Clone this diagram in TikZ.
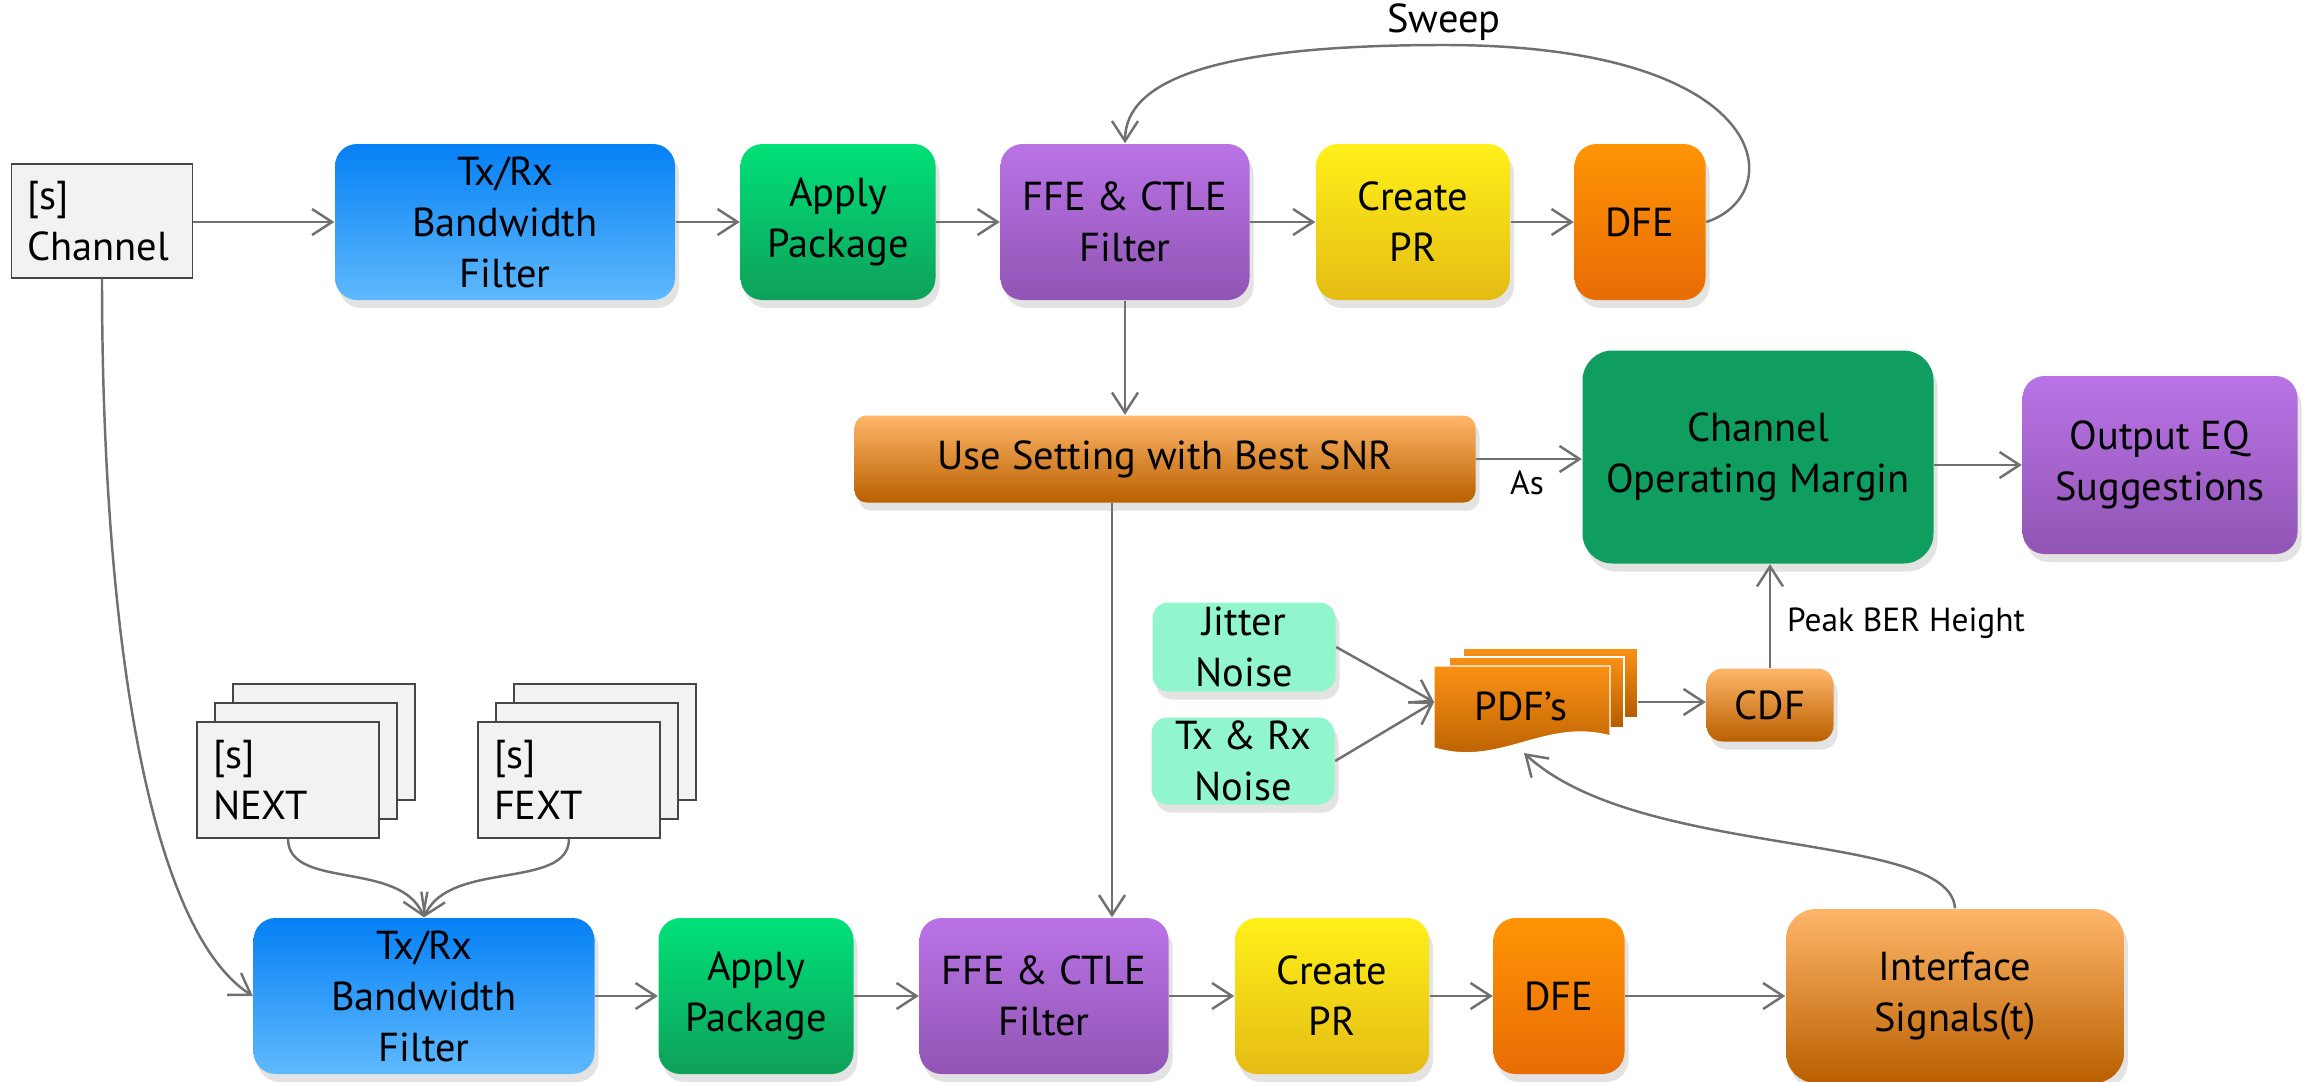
\documentclass[tikz,border=0pt]{standalone}
\usepackage{fontspec}
\setmainfont{PT Sans}
\usetikzlibrary{arrows.meta,shadows,calc}

\definecolor{blueTop}{RGB}{5,128,245}
\definecolor{blueBot}{RGB}{95,185,252}
\definecolor{greenTop}{RGB}{0,225,120}
\definecolor{greenBot}{RGB}{15,160,90}
\definecolor{purpTop}{RGB}{185,115,230}
\definecolor{purpBot}{RGB}{145,85,180}
\definecolor{yelTop}{RGB}{255,240,25}
\definecolor{yelBot}{RGB}{228,188,20}
\definecolor{orTop}{RGB}{255,148,5}
\definecolor{orBot}{RGB}{232,108,5}
\definecolor{ltorTop}{RGB}{255,182,105}
\definecolor{ltorMid}{RGB}{255,140,15}
\definecolor{ltorBot}{RGB}{185,95,0}
\definecolor{comGreen}{RGB}{15,157,96}
\definecolor{mint}{RGB}{145,245,205}
\definecolor{sbox}{RGB}{242,242,242}
\definecolor{sline}{RGB}{70,70,70}
\definecolor{wire}{RGB}{112,112,112}
\definecolor{pdfTop}{RGB}{250,145,20}
\definecolor{pdfBot}{RGB}{180,92,0}

\begin{document}
\begin{tikzpicture}[x=0.1mm, y=-0.1mm, >={Straight Barb[length=2mm,width=2.6mm]},
    font=\fontsize{11.5}{14.5}\selectfont]
    \tikzstyle{box} = [rounded corners=2.2mm, align=center, inner sep=0pt,
        drop shadow={shadow xshift=0.4mm, shadow yshift=-0.8mm, opacity=0.22}]
    \tikzstyle{sparam} = [draw=sline, fill=sbox, align=left, text width=15mm,
        inner xsep=1.6mm, minimum height=11.6mm]
    \tikzstyle{txrx} = [box, top color=blueTop, bottom color=blueBot, minimum width=34mm, minimum height=15.6mm]
    \tikzstyle{pkg} = [box, top color=greenTop, bottom color=greenBot, minimum width=19.5mm, minimum height=15.6mm]
    \tikzstyle{eq} = [box, top color=purpTop, bottom color=purpBot, minimum width=24.9mm, minimum height=15.6mm]
    \tikzstyle{pulse} = [box, top color=yelTop, bottom color=yelBot, minimum width=19.4mm, minimum height=15.6mm]
    \tikzstyle{dfebox} = [box, top color=orTop, bottom color=orBot, minimum width=13.1mm, minimum height=15.6mm]
    \tikzstyle{ltor} = [box, top color=ltorTop, middle color=ltorMid, bottom color=ltorBot]
    \tikzstyle{noise} = [box, fill=mint, rounded corners=1.6mm, minimum width=18.3mm, minimum height=8.9mm, drop shadow={opacity=0}]
    \tikzstyle{wire} = [draw=wire, line width=0.7pt, ->]
    \tikzstyle{layer} = [top color=pdfTop, bottom color=pdfBot, draw=white, line width=0.4pt]

    \useasboundingbox (0,0) rectangle (2310,1081);

    % top chain
    \node[sparam, text width=14.9mm, minimum height=11.4mm] (channel) at (102,221) {[s]\\Channel};
    \node[txrx] (txrx1) at (505,222) {Tx/Rx\\Bandwidth\\Filter};
    \node[pkg] (apply1) at (838,222) {Apply\\Package};
    \node[eq] (ffe1) at (1125,222) {FFE \& CTLE\\Filter};
    \node[pulse] (pr1) at (1413,222) {Create\\PR};
    \node[dfebox] (dfe1) at (1640,222) {DFE};
    \node (sweep) at (1444,22) {Sweep};

    % result
    \node[ltor, rounded corners=1.2mm, minimum width=62.1mm, minimum height=8.7mm] (usebest) at (1165,459) {Use Setting with Best SNR};
    \node[box, fill=comGreen, rounded corners=3mm, minimum width=35.1mm, minimum height=21.3mm] (com) at (1758,457) {Channel\\Operating Margin};
    \node[box, top color=purpTop, bottom color=purpBot, minimum width=27.5mm, minimum height=17.8mm] (output) at (2160,465) {Output EQ\\Suggestions};
    \node[font=\fontsize{9.5}{11}\selectfont] (as) at (1527,483) {As};

    % noise and statistics
    \node[noise] (jitter) at (1244,647) {Jitter\\Noise};
    \node[noise, minimum height=8.7mm] (txrxn) at (1243,761) {Tx \& Rx\\Noise};
    \path[layer] (1463,648) rectangle (1638,718);
    \path[layer] (1449,657) rectangle (1624,728);
    \path[layer] (1434,666) -- (1610,666) -- (1610,736)
        .. controls (1545,718) and (1500,768) .. (1434,748) -- cycle;
    \node (pdf) at (1521,706) {PDF’s};
    \coordinate (pdfin) at (1434,702);
    \coordinate (pdfout) at (1638,702);
    \coordinate (pdfbot) at (1524,753);
    \node[ltor, rounded corners=1.6mm, minimum width=12.7mm, minimum height=7.3mm] (cdf) at (1770,705) {CDF};
    \node[font=\fontsize{9.5}{11}\selectfont] (peak) at (1906,623) {Peak BER Height};

    % crosstalk stacks
    \node[sparam] (next3) at (324,742) {};
    \node[sparam] (next2) at (306,761) {};
    \node[sparam] (next) at (288,780) {[s]\\NEXT};
    \node[sparam] (fext3) at (605,742) {};
    \node[sparam] (fext2) at (587,761) {};
    \node[sparam] (fext) at (569,780) {[s]\\FEXT};

    % bottom chain
    \node[txrx, minimum width=34.1mm] (txrx2) at (424,996) {Tx/Rx\\Bandwidth\\Filter};
    \node[pkg] (apply2) at (756,996) {Apply\\Package};
    \node[eq] (ffe2) at (1044,996) {FFE \& CTLE\\Filter};
    \node[pulse] (pr2) at (1332,996) {Create\\PR};
    \node[dfebox] (dfe2) at (1559,996) {DFE};
    \node[ltor, rounded corners=3mm, minimum width=33.8mm, minimum height=17.4mm] (iface) at (1955,996) {Interface\\Signals(t)};
    \coordinate (drop) at (1112,0);

    % connections
    \draw[wire] (channel.east |- txrx1.west) -- (txrx1.west);
    \draw[wire] (txrx1) -- (apply1);
    \draw[wire] (apply1) -- (ffe1);
    \draw[wire] (ffe1) -- (pr1);
    \draw[wire] (pr1) -- (dfe1);
    \draw[wire] (dfe1.east) .. controls (1790,195) and (1775,45) .. (1444,45)
        .. controls (1215,45) and (1125,80) .. (ffe1.north);
    \draw[wire] (ffe1.south) -- (ffe1.south |- usebest.north);
    \draw[wire] (usebest.east) -- (usebest.east -| com.west);
    \draw[wire] (com.east |- output.west) -- (output.west);
    \draw[wire] (jitter.east) -- (pdfin);
    \draw[wire] (txrxn.east) -- (pdfin);
    \draw[wire] (pdfout) -- (cdf.west |- pdfout);
    \draw[wire] (cdf.north) -- (cdf.north |- com.south);
    \draw[wire] (iface.north) .. controls (1950,830) and (1640,860) .. (pdfbot);
    \draw[wire] (channel.south) .. controls (102,640) and (150,930) .. (txrx2.west);
    \draw[wire] (next.south) .. controls (288,890) and (400,860) .. (txrx2.north);
    \draw[wire] (fext.south) .. controls (569,890) and (450,860) .. (txrx2.north);
    \draw[wire] (txrx2) -- (apply2);
    \draw[wire] (apply2) -- (ffe2);
    \draw[wire] (ffe2) -- (pr2);
    \draw[wire] (pr2) -- (dfe2);
    \draw[wire] (dfe2) -- (iface);
    \draw[wire] (usebest.south -| drop) -- (ffe2.north -| drop);
\end{tikzpicture}
\end{document}
